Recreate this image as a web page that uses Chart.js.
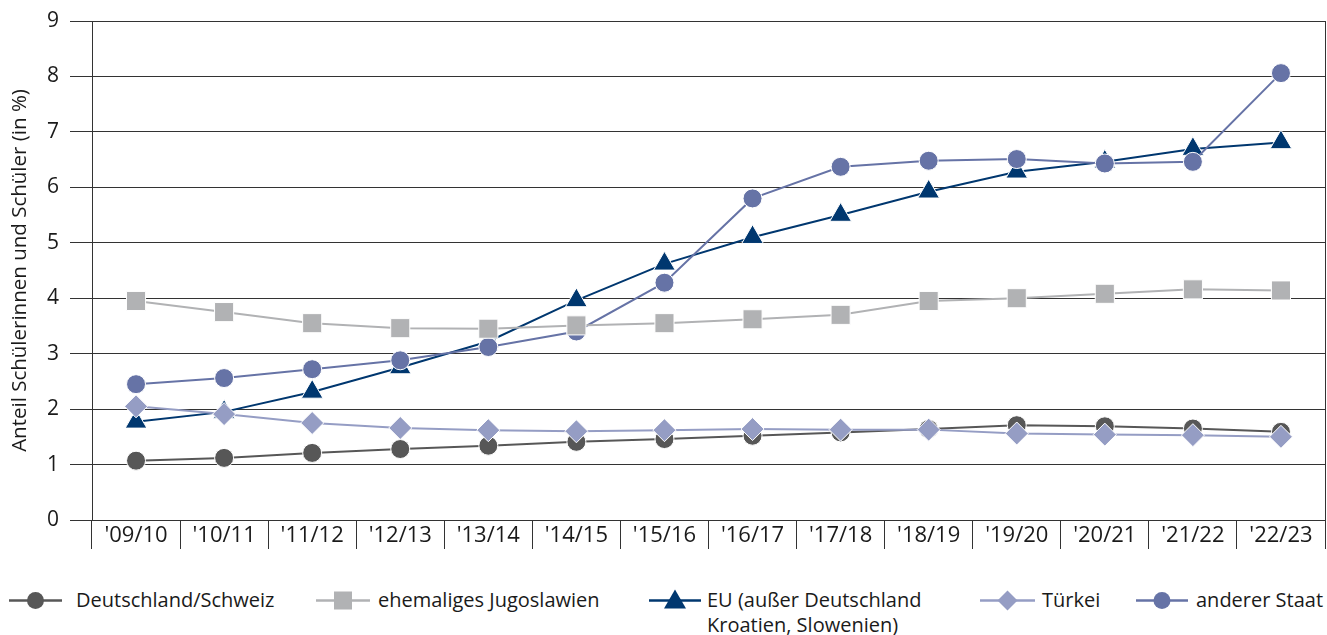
<!DOCTYPE html>
<html lang="de">
<head>
<meta charset="utf-8">
<script src="https://cdn.jsdelivr.net/npm/chart.js@4"></script>
<style>
    html, body { margin: 0; padding: 0; background: #fff; }
    body { width: 1327px; height: 635px; position: relative; overflow: hidden; font-family: "Open Sans", sans-serif; color: #1a1a1a; }
    #wrap { position: absolute; left: 0; top: 0; width: 1327px; height: 560px; }
    .leg { position: absolute; font-size: 20px; line-height: 25px; white-space: nowrap; }
    .leg svg { position: absolute; top: 0; }
</style>
</head>
<body>
<div id="wrap"><canvas id="grafico"></canvas></div>
<div id="legenda"></div>
<script>
// Schuljahre (Kategorien)
const schuljahre = ["'09/10", "'10/11", "'11/12", "'12/13", "'13/14", "'14/15", "'15/16", "'16/17", "'17/18", "'18/19", "'19/20", "'20/21", "'21/22", "'22/23"];

// Anteile in %
const deutschlandSchweiz = [1.07, 1.12, 1.21, 1.28, 1.34, 1.41, 1.46, 1.52, 1.58, 1.64, 1.71, 1.69, 1.65, 1.59];
const exJugoslawien = [3.95, 3.75, 3.55, 3.46, 3.45, 3.51, 3.55, 3.62, 3.70, 3.95, 4.00, 4.08, 4.16, 4.14];
const euOhne = [1.77, 1.95, 2.31, 2.75, 3.22, 3.96, 4.62, 5.10, 5.50, 5.92, 6.28, 6.46, 6.69, 6.81];
const tuerkei = [2.05, 1.91, 1.75, 1.66, 1.62, 1.60, 1.62, 1.64, 1.63, 1.63, 1.56, 1.54, 1.53, 1.50];
const andererStaat = [2.45, 2.56, 2.72, 2.88, 3.12, 3.40, 4.28, 5.80, 6.37, 6.48, 6.51, 6.43, 6.46, 8.06];

const yTicks = [0, 1, 2, 3, 4, 5, 6, 7, 8, 9];

const serien = [
    { label: "Deutschland/Schweiz", data: deutschlandSchweiz, cor: "#575757", ponto: "circle", raio: 9.5, ordem: 5 },
    { label: "ehemaliges Jugoslawien", data: exJugoslawien, cor: "#b1b2b4", ponto: "rect", raio: 13.5, ordem: 1 },
    { label: "EU (außer Deutschland Kroatien, Slowenien)", data: euOhne, cor: "#00376f", ponto: "triangle", raio: 12.5, ordem: 4 },
    { label: "Türkei", data: tuerkei, cor: "#959dc4", ponto: "rectRot", raio: 11.5, ordem: 3 },
    { label: "anderer Staat", data: andererStaat, cor: "#6673a6", ponto: "circle", raio: 9.5, ordem: 2 }
];

const fonte = "'Open Sans', sans-serif";
const corGrade = "#333333";

new Chart(document.getElementById("grafico"), {
    type: "line",
    data: {
        labels: schuljahre,
        datasets: serien.map(s => ({
            label: s.label,
            data: s.data,
            borderColor: s.cor,
            backgroundColor: s.cor,
            borderWidth: 2,
            pointStyle: s.ponto,
            pointRadius: s.raio,
            pointHoverRadius: s.raio,
            pointBorderColor: "#ffffff",
            pointBorderWidth: 1,
            tension: 0,
            order: s.ordem
        }))
    },
    options: {
        responsive: true,
        maintainAspectRatio: false,
        animation: false,
        layout: { autoPadding: false, padding: { top: 21, right: 2, left: 0, bottom: 0 } },
        plugins: {
            legend: { display: false },
            tooltip: { enabled: false }
        },
        scales: {
            x: {
                offset: true,
                grid: {
                    offset: true,
                    drawOnChartArea: false,
                    drawTicks: true,
                    tickLength: 29,
                    color: corGrade,
                    lineWidth: 1
                },
                border: { display: true, color: corGrade, width: 1 },
                ticks: {
                    padding: -26,
                    color: "#1a1a1a",
                    font: { family: fonte, size: 22 },
                    maxRotation: 0,
                    autoSkip: false
                },
                afterFit: function(scale) {
                    scale.height = 40;
                    scale.paddingLeft = 0;
                    scale.paddingRight = 0;
                }
            },
            y: {
                min: 0,
                max: 9,
                afterBuildTicks: function(scale) {
                    scale.ticks = yTicks.map(v => ({ value: v }));
                },
                grid: {
                    color: corGrade,
                    lineWidth: 1,
                    drawTicks: true,
                    tickLength: 22
                },
                border: { display: true, color: corGrade, width: 1 },
                ticks: {
                    padding: 11,
                    color: "#1a1a1a",
                    font: { family: fonte, size: 21 }
                },
                title: {
                    display: true,
                    text: "Anteil Schülerinnen und Schüler (in %)",
                    color: "#1a1a1a",
                    font: { family: fonte, size: 20.5 },
                    padding: { top: 8, bottom: 4 }
                },
                afterFit: function(scale) {
                    scale.width = 92;
                    scale.paddingTop = 0;
                    scale.paddingBottom = 0;
                }
            },
            y1: {
                position: "right",
                min: 0,
                max: 9,
                grid: { display: false },
                ticks: { display: false },
                border: { display: true, color: corGrade, width: 1 },
                afterFit: function(scale) { scale.width = 0; }
            }
        }
    }
});

// Legende (HTML) mit Symbolen wie im Original
const posLegenda = [
    { linha: [9, 62], texto: 76 },
    { linha: [316, 370], texto: 378 },
    { linha: [649, 701], texto: 707 },
    { linha: [980, 1035], texto: 1042 },
    { linha: [1136, 1188], texto: 1196 }
];

function simbolo(s, larg) {
    const cx = larg / 2, cy = 12.5;
    let forma = "";
    if (s.ponto === "circle") {
        forma = `<circle cx="${cx}" cy="${cy}" r="8.5" fill="${s.cor}"/>`;
    } else if (s.ponto === "rect") {
        forma = `<rect x="${cx - 9}" y="${cy - 9}" width="18" height="18" fill="${s.cor}"/>`;
    } else if (s.ponto === "triangle") {
        forma = `<polygon points="${cx},${cy - 11} ${cx + 11},${cy + 8} ${cx - 11},${cy + 8}" fill="${s.cor}"/>`;
    } else {
        forma = `<polygon points="${cx},${cy - 10} ${cx + 10},${cy} ${cx},${cy + 10} ${cx - 10},${cy}" fill="${s.cor}"/>`;
    }
    return `<svg width="${larg}" height="25" style="left:0"><line x1="0" y1="${cy}" x2="${larg}" y2="${cy}" stroke="${s.cor}" stroke-width="2.5"/>${forma}</svg>`;
}

const legenda = document.getElementById("legenda");
serien.forEach((s, i) => {
    const p = posLegenda[i];
    const larg = p.linha[1] - p.linha[0];
    const icone = document.createElement("div");
    icone.className = "leg";
    icone.style.left = p.linha[0] + "px";
    icone.style.top = "588px";
    icone.style.width = larg + "px";
    icone.style.height = "25px";
    icone.innerHTML = simbolo(s, larg);
    legenda.appendChild(icone);

    const txt = document.createElement("div");
    txt.className = "leg";
    txt.style.left = p.texto + "px";
    txt.style.top = "587px";
    if (i === 2) {
        txt.innerHTML = "EU (außer Deutschland<br>Kroatien, Slowenien)";
    } else {
        txt.textContent = s.label;
    }
    legenda.appendChild(txt);
});
</script>
</body>
</html>
